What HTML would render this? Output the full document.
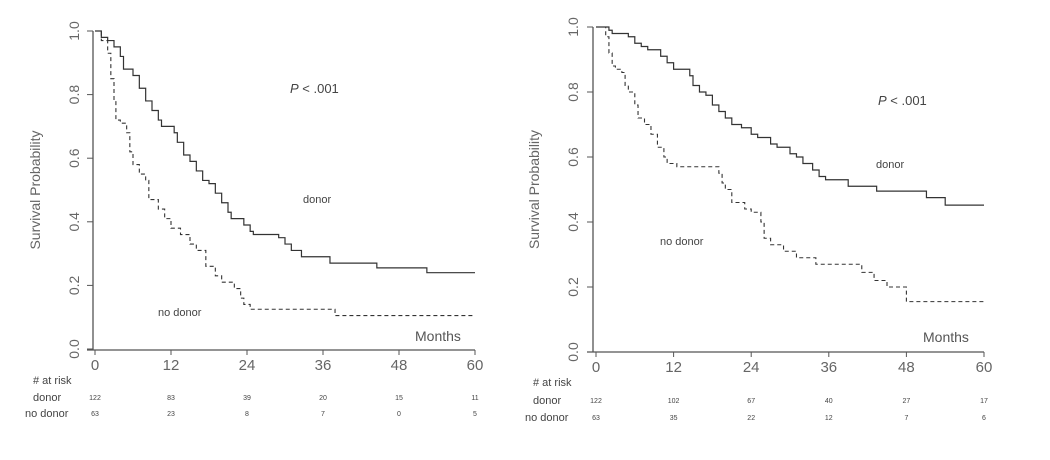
<!DOCTYPE html>
<html><head><meta charset="utf-8"><style>
body{margin:0;background:#fff;}
svg{display:block;font-family:"Liberation Sans",sans-serif;}
</style></head><body>
<svg id="c" width="1050" height="460" viewBox="0 0 1050 460"></svg>
<script>
const xTicks=[0,12,24,36,48,60];
const yTicks=[0,0.2,0.4,0.6,0.8,1.0];
const yTickLabels=["0.0","0.2","0.4","0.6","0.8","1.0"];
// left panel
const leftDonorT=[0,1,2,3,4,4.5,6,7,8,9,10,10.5,12.5,13,14,15,16,17,18,19,20,21,21.5,23.5,24.5,25,29,30,31,32.6,37.1,44.5,52.4,60];
const leftDonorS=[1,0.98,0.97,0.95,0.92,0.88,0.86,0.82,0.78,0.75,0.72,0.70,0.68,0.65,0.61,0.59,0.56,0.53,0.52,0.49,0.46,0.43,0.41,0.39,0.37,0.36,0.35,0.33,0.31,0.29,0.27,0.255,0.24,0.24];
const leftNoT=[0,1,2,2.5,3,3.3,4,5,5.5,6,7,8,8.5,10,11,12,13.5,15,16,17.5,19,20,22,23,23.5,24.5,37.9,60];
const leftNoS=[1,0.97,0.93,0.85,0.78,0.72,0.71,0.68,0.62,0.58,0.55,0.53,0.47,0.44,0.41,0.38,0.36,0.33,0.31,0.26,0.23,0.21,0.19,0.16,0.14,0.125,0.105,0.105];
const leftRiskDonor=["122","83","39","20","15","11"];
const leftRiskNo=["63","23","8","7","0","5"];
// right panel
const rightDonorT=[0,2,2.5,5,6,7,8,10,11,12,14.5,15,16,17,18,19,20,21,22.5,24,25,27,28,30,31,32,33.5,34.5,35.5,39,43.4,51.1,54,60];
const rightDonorS=[1,0.99,0.98,0.97,0.95,0.94,0.93,0.91,0.89,0.87,0.85,0.82,0.80,0.79,0.76,0.74,0.72,0.70,0.69,0.67,0.66,0.64,0.63,0.61,0.60,0.58,0.56,0.54,0.53,0.51,0.495,0.475,0.452,0.452];
const rightNoT=[0,1.5,2,2.5,3,4,4.5,5,6,6.5,7.5,8.5,9.5,10.5,11,12.5,19,19.5,20,21,23,24,25.5,26,27,29,31,34,41.1,43,45,48,60];
const rightNoS=[1,0.97,0.92,0.88,0.87,0.86,0.82,0.80,0.76,0.72,0.70,0.67,0.63,0.60,0.58,0.57,0.55,0.52,0.50,0.46,0.44,0.43,0.40,0.35,0.33,0.31,0.29,0.27,0.245,0.22,0.20,0.155,0.155];
const rightRiskDonor=["122","102","67","40","27","17"];
const rightRiskNo=["63","35","22","12","7","6"];

const NS="http://www.w3.org/2000/svg";
const svg=document.getElementById('c');
function mk(tag,attrs,parent){const e=document.createElementNS(NS,tag);for(const k in attrs)e.setAttribute(k,attrs[k]);(parent||svg).appendChild(e);return e;}
function txt(s,attrs,parent){const e=mk('text',attrs,parent);e.textContent=s;return e;}

function panel(p){
  const g=mk('g',{});
  
  
  const X=t=>p.x0+(t/60)*(p.x1-p.x0);
  const Y=s=>p.y0-s*(p.y0-p.y1);
  // axes
  const ya=mk('line',{x1:p.ax,y1:Y(1),x2:p.ax,y2:p.axY,stroke:'#555','stroke-width':1.3},g);
  
  
  const xa=mk('line',{x1:p.ax-6,y1:p.axY,x2:X(60),y2:p.axY,stroke:'#555','stroke-width':1.3},g);
  
  
  yTicks.forEach((v,i)=>{
    mk('line',{x1:p.ax-6,y1:Y(v),x2:p.ax,y2:Y(v),stroke:'#555'},g);
    const t=txt(yTickLabels[i],{x:p.ylx,y:Y(v),'font-size':14,fill:'#666','text-anchor':'middle',transform:`rotate(-90 ${p.ylx} ${Y(v)})`},g);
    
    
  });
  xTicks.forEach((v,i)=>{
    mk('line',{x1:X(v),y1:p.axY,x2:X(v),y2:p.axY+5,stroke:'#555'},g);
    const t=txt(String(v),{x:X(v),y:p.axY+20,'font-size':15,fill:'#666','text-anchor':'middle'},g);
    
    
    const a=txt(p.rd[i],{x:X(v),y:p.r1+3,'font-size':7,fill:'#444','text-anchor':'middle'},g);
    
    
    const b=txt(p.rn[i],{x:X(v),y:p.r2+3,'font-size':7,fill:'#444','text-anchor':'middle'},g);
    
    
  });
  const yl=txt('Survival Probability',{x:p.ytx,y:(Y(0)+Y(1))/2,'font-size':14,fill:'#666','text-anchor':'middle',transform:`rotate(-90 ${p.ytx} ${(Y(0)+Y(1))/2})`},g);
  
  
  function step(T,S,dash,name,w){
    let d=`M${X(T[0])},${Y(S[0])}`;
    for(let i=1;i<T.length;i++){d+=` H${X(T[i])} V${Y(S[i])}`;}
    const e=mk('path',{d:d,fill:'none',stroke:'#333','stroke-width':w,'stroke-dasharray':dash},g);
    
    
  }
  step(p.dT,p.dS,'none','donor-curve',1.2);
  step(p.nT,p.nS,'4,3','no-donor-curve',1.1);
  const lab=(s,x,y,n,size,extra)=>{const e=txt(s,Object.assign({x:x,y:y,'font-size':size,fill:'#444'},extra||{}),g);return e;};
  const pv=lab('',p.px,p.py,'p-value',13);
  const i1=document.createElementNS(NS,'tspan');i1.setAttribute('font-style','italic');i1.textContent='P';pv.appendChild(i1);
  const i2=document.createElementNS(NS,'tspan');i2.textContent=' < .001';pv.appendChild(i2);
  lab('donor',p.dx,p.dy,'donor-label',11);
  lab('no donor',p.nx,p.ny,'no-donor-label',11);
  lab('Months',p.mx,p.my,'x-axis-title',14,{fill:'#555'});
  lab('# at risk',p.lx+8,p.r0,'at-risk-title',11);
  lab('donor',p.lx+8,p.r1+4,'at-risk-donor-label',11);
  lab('no donor',p.lx,p.r2+4,'at-risk-nodonor-label',11);
}
panel({name:'left-chart',x0:95,x1:475,y0:349,y1:31,ax:93,axY:350,ylx:79,ytx:40,
  dT:leftDonorT,dS:leftDonorS,nT:leftNoT,nS:leftNoS,rd:leftRiskDonor,rn:leftRiskNo,
  px:290,py:93,dx:303,dy:203,nx:158,ny:316,mx:415,my:341,lx:25,r0:384,r1:397,r2:413});
panel({name:'right-chart',x0:596,x1:984,y0:352,y1:27,ax:593,axY:352,ylx:578,ytx:539,
  dT:rightDonorT,dS:rightDonorS,nT:rightNoT,nS:rightNoS,rd:rightRiskDonor,rn:rightRiskNo,
  px:878,py:105,dx:876,dy:168,nx:660,ny:245,mx:923,my:342,lx:525,r0:386,r1:400,r2:417});
</script>
</body></html>
